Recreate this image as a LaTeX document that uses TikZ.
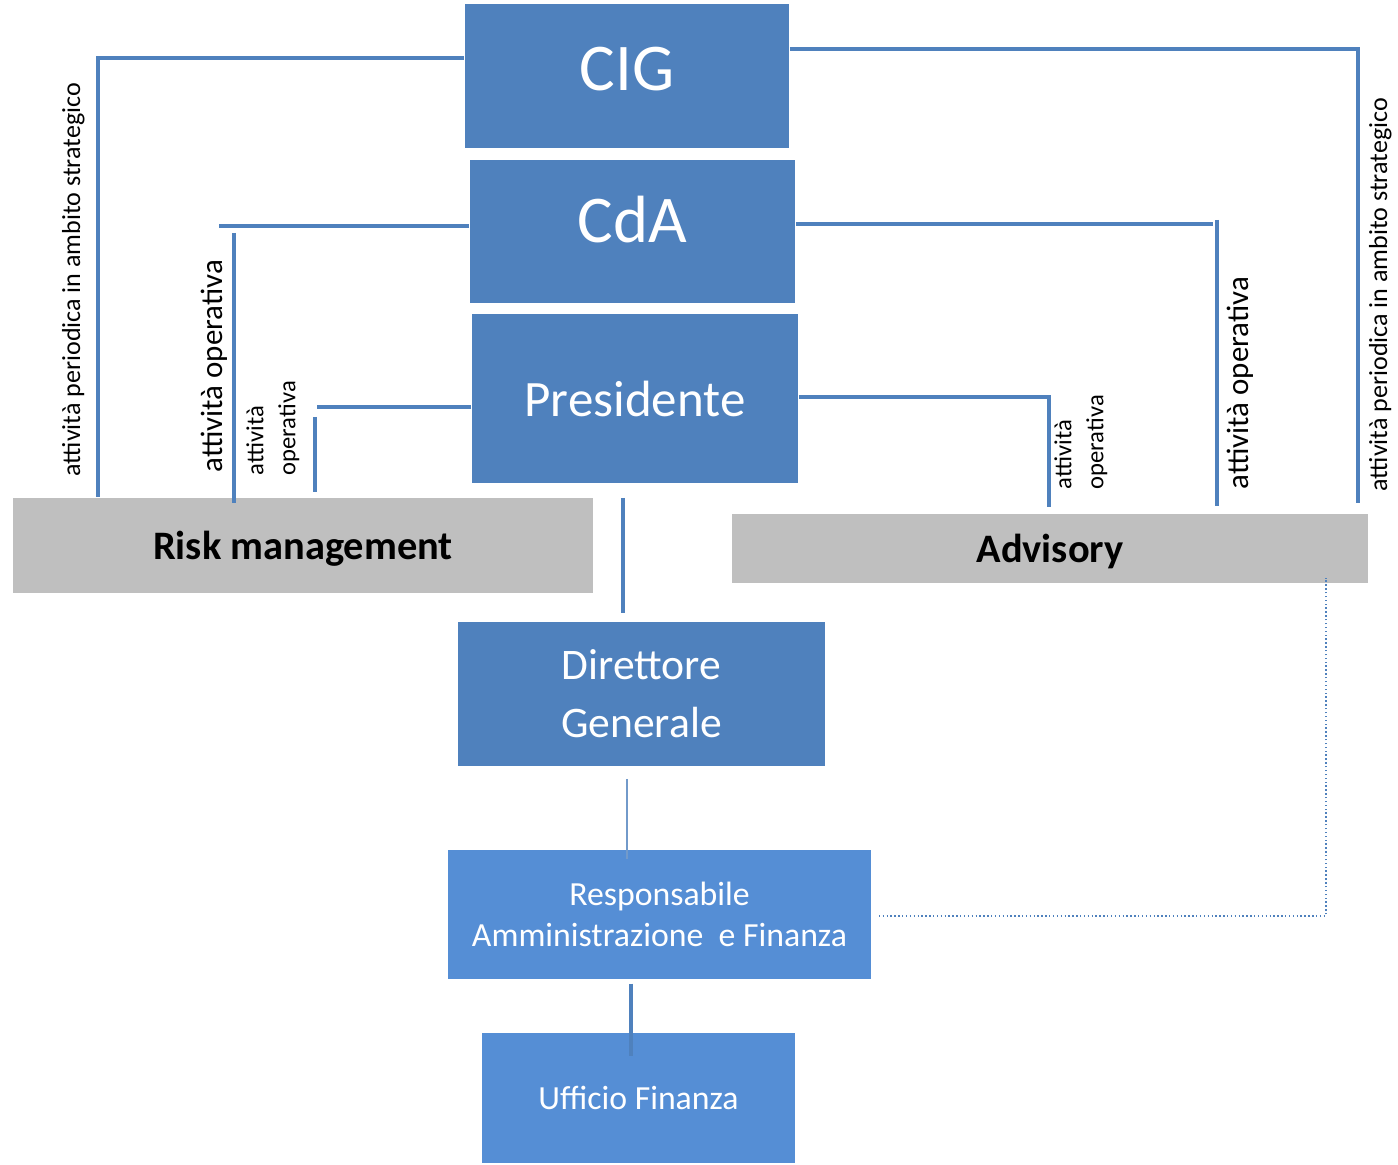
\documentclass[tikz,border=0pt]{standalone}
\usepackage{fontspec}
\setmainfont{Carlito}
\definecolor{bluscuro}{HTML}{4F81BD}
\definecolor{bluchiaro}{HTML}{558ED5}
\definecolor{grigio}{HTML}{BFBFBF}
\tikzset{
  organo/.style={fill=bluscuro, text=white, inner sep=0pt, align=center},
  ufficio/.style={fill=bluchiaro, text=white, inner sep=0pt, align=center},
  funzione/.style={fill=grigio, text=black, inner sep=0pt, text depth=0pt,
    font=\bfseries\fontsize{11.5}{14}\selectfont},
  linea/.style={draw=bluscuro, line width=0.9pt},
  lineafine/.style={draw=bluscuro!80, line width=0.7pt},
  puntini/.style={draw=bluscuro, line width=0.6pt, dash pattern=on 0.4pt off 0.7pt},
  nota/.style={rotate=90, inner sep=0pt, align=left},
}
\begin{document}
\begin{tikzpicture}[x=0.01cm, y=-0.01cm]
    \useasboundingbox (0,0) rectangle (1398,1165);

    % organi di vertice
    \node[organo, minimum width=3.24cm, minimum height=1.44cm, text depth=4.3pt,
      font=\fontsize{19}{22}\selectfont] (cig) at (627,76) {CIG};
    \node[organo, minimum width=3.25cm, minimum height=1.43cm, text depth=6.8pt,
      font=\fontsize{19}{22}\selectfont] (cda) at (632.5,231.5) {CdA};
    \node[organo, minimum width=3.26cm, minimum height=1.69cm,
      font=\fontsize{14.5}{17}\selectfont] (pres) at (635,398.5) {Presidente};

    % funzioni di controllo
    \node[funzione, minimum width=5.80cm, minimum height=0.95cm] (risk) at (303,545.5) {Risk management};
    \node[funzione, minimum width=6.36cm, minimum height=0.69cm] (adv) at (1050,548.5) {Advisory};

    % struttura operativa
    \node[organo, minimum width=3.67cm, minimum height=1.44cm,
      font=\fontsize{12.4}{16.5}\selectfont] (dg) at (641.5,694) {Direttore\\Generale};
    \node[ufficio, minimum width=4.23cm, minimum height=1.29cm,
      font=\fontsize{9.6}{11.7}\selectfont] (raf) at (659.5,914.5) {Responsabile\\Amministrazione\ \ e Finanza};
    \node[ufficio, minimum width=3.13cm, minimum height=1.30cm,
      font=\fontsize{9.6}{11.7}\selectfont] (uf) at (638.5,1098) {Ufficio Finanza};

    % CIG
    \coordinate (cigsx) at (98,58);
    \coordinate (cigdx) at (1358,49);
    \draw[linea] (cig.west |- cigsx) -- (cigsx) -- (cigsx |- risk.north);
    \draw[linea, shorten >=1mm] (cig.east |- cigdx) -- (cigdx) -- (cigdx |- adv.north);

    % CdA
    \coordinate (cdasx) at (219,226);
    \coordinate (cdasxv) at (234,233);
    \draw[linea] (cda.west |- cdasx) -- (cdasx);
    \draw[linea, shorten >=-0.6mm] (cdasxv) -- (cdasxv |- risk.north);
    \coordinate (cdadx) at (1213,224);
    \coordinate (cdadxv) at (1217,220);
    \draw[linea] (cda.east |- cdadx) -- (cdadx);
    \draw[linea, shorten >=0.7mm] (cdadxv) -- (cdadxv |- adv.north);

    % Presidente
    \coordinate (pressx) at (317,407);
    \coordinate (pressxv) at (315,417);
    \draw[linea] (pres.west |- pressx) -- (pressx);
    \draw[linea, shorten >=0.5mm] (pressxv) -- (pressxv |- risk.north);
    \coordinate (presdx) at (1049,397);
    \draw[linea, shorten >=0.6mm] (pres.east |- presdx) -- (presdx) -- (presdx |- adv.north);

    % linea gerarchica
    \draw[linea, shorten <=1.4mm, shorten >=0.8mm] (pres.south -| 623,0) -- (dg.north -| 623,0);
    \draw[lineafine, shorten <=1.2mm, shorten >=-1mm] (dg.south -| 627,0) -- (raf.north -| 627,0);
    \draw[linea, shorten <=0.4mm, shorten >=-2.4mm] (raf.south -| 631,0) -- (uf.north -| 631,0);

    % collegamento con Advisory
    \coordinate (angolo) at (1326,916);
    \draw[puntini, shorten <=0.7mm, shorten >=-0.6mm] (raf.east |- angolo) -- (angolo) -- (angolo |- adv.south);

    % etichette
    \node[nota, anchor=base west, font=\fontsize{7.4}{9}\selectfont] (persx) at (80,477) {attività periodica in ambito strategico};
    \node[nota, anchor=base west, font=\fontsize{8.8}{10}\selectfont] (opsx) at (222,473) {attività operativa};
    \node[nota, anchor=south west, font=\fontsize{7}{9.1}\selectfont] (opsx2) at (300,476) {attività\\operativa};
    \node[nota, anchor=south west, font=\fontsize{7}{9.1}\selectfont] (opdx2) at (1108,490) {attività\\operativa};
    \node[nota, anchor=base west, font=\fontsize{8.8}{10}\selectfont] (opdx) at (1248,490) {attività operativa};
    \node[nota, anchor=base west, font=\fontsize{7.4}{9}\selectfont] (perdx) at (1387,492) {attività periodica in ambito strategico};

\end{tikzpicture}
\end{document}
